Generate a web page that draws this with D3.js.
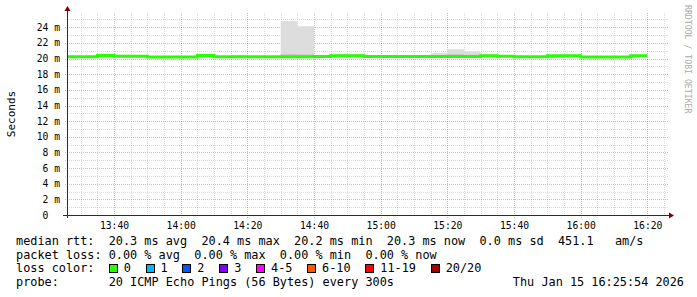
<!DOCTYPE html>
<html>
<head>
<meta charset="utf-8">
<script src="https://cdn.jsdelivr.net/npm/d3@7"></script>
<style>
  html, body { margin: 0; padding: 0; background: #fff; }
  svg { display: block; font-family: "DejaVu Sans Mono", monospace; }
  text { white-space: pre; }
</style>
</head>
<body>
<svg id="canvas"></svg>
<script>
const width = 697;
const height = 297;

// 5 minute steps, value covers (end - 300s, end]
const stepEnds = ["13:30","13:35","13:40","13:45","13:50","13:55","14:00","14:05","14:10","14:15",
  "14:20","14:25","14:30","14:35","14:40","14:45","14:50","14:55","15:00","15:05",
  "15:10","15:15","15:20","15:25","15:30","15:35","15:40","15:45","15:50","15:55",
  "16:00","16:05","16:10","16:15","16:20"];

// median rtt in ms
const median = [20.25, 20.25, 20.38, 20.3, 20.3, 20.2, 20.2, 20.2, 20.38, 20.25,
  20.25, 20.25, 20.25, 20.25, 20.25, 20.27, 20.35, 20.35, 20.28, 20.28,
  20.28, 20.28, 20.28, 20.28, 20.28, 20.35, 20.3, 20.25, 20.25, 20.35,
  20.35, 20.2, 20.2, 20.2, 20.35];

// smoke (ping spread) upper / lower bound in ms
const smokeHi = [20.35, 20.35, 20.4, 20.35, 20.35, 20.2, 20.35, 20.35, 20.4, 20.25,
  20.45, 20.3, 20.3, 24.8, 24.15, 20.4, 20.6, 20.6, 20.4, 20.3,
  20.3, 20.3, 20.75, 21.2, 20.9, 20.55, 20.4, 20.35, 20.35, 20.4,
  20.4, 20.25, 20.25, 20.25, 20.4];
const smokeMid = [20.3, 20.3, 20.38, 20.3, 20.3, 20.2, 20.25, 20.25, 20.38, 20.25,
  20.3, 20.25, 20.25, 20.6, 20.55, 20.3, 20.45, 20.45, 20.3, 20.28,
  20.28, 20.28, 20.45, 20.6, 20.5, 20.4, 20.3, 20.3, 20.3, 20.35,
  20.35, 20.2, 20.2, 20.2, 20.35];
const smokeLo = [20.15, 20.15, 20.25, 20.2, 20.2, 20.1, 20.1, 20.1, 20.25, 20.15,
  20.15, 20.15, 20.15, 20.15, 20.15, 20.15, 20.25, 20.25, 20.18, 20.18,
  20.18, 20.18, 20.18, 20.18, 20.18, 20.25, 20.2, 20.15, 20.15, 20.1,
  20.25, 20.1, 20.1, 20.1, 20.25];

const yTickValues = [0, 2, 4, 6, 8, 10, 12, 14, 16, 18, 20, 22, 24];
const yTickLabels = ["0  ", "2 m", "4 m", "6 m", "8 m", "10 m", "12 m", "14 m", "16 m", "18 m", "20 m", "22 m", "24 m"];

const stats = ["median rtt:  20.3 ms avg  20.4 ms max  20.2 ms min  20.3 ms now  0.0 ms sd  451.1   am/s",
  "packet loss: 0.00 % avg  0.00 % max  0.00 % min  0.00 % now"];
const lossLabels = ["0", "1", "2", "3", "4-5", "6-10", "11-19", "20/20"];
const lossColors = ["#26ff00", "#00b8ff", "#0059ff", "#7e00ff", "#ff00ff", "#ff5500", "#ff0000", "#a10000"];
const probeText = "probe:       20 ICMP Echo Pings (56 Bytes) every 300s";
const stampText = "Thu Jan 15 16:25:54 2026";

const svg = d3.select("#canvas")
  .attr("width", width)
  .attr("height", height);

const X0 = 67, X1 = 667, Y0 = 215, Y1 = 13;
const tStart = new Date(2026, 0, 15, 13, 25, 54);
const tEnd = new Date(2026, 0, 15, 16, 25, 54);

const x = d3.scaleTime().domain([tStart, tEnd]).range([X0, X1]);
const y = d3.scaleLinear().domain([0, 24]).range([Y0, 27.3]);
const yMax = y.invert(Y1);

const parseT = s => {
  const [h, m] = s.split(":").map(Number);
  return new Date(2026, 0, 15, h, m, 0);
};
const ends = stepEnds.map(parseT);
const steps = ends.map((e, i) => ({
  start: new Date(Math.max(+tStart, +e - 300000)),
  end: e,
  med: median[i], hi: smokeHi[i], mid: smokeMid[i], lo: smokeLo[i]
}));
// extra point so the last step is drawn to its end
const pts = steps.concat([Object.assign({}, steps[steps.length - 1], { start: steps[steps.length - 1].end })]);

const gridMinor = "rgba(140,140,140,0.33)";
const gridMajor = "rgba(150,30,30,0.33)";

// horizontal grid
const g = svg.append("g");
d3.range(0, Math.floor(yMax) + 1).forEach(v => {
  const major = v % 2 === 0;
  g.append("line")
    .attr("x1", X0 - 2).attr("x2", X1 + 2)
    .attr("y1", Math.round(y(v)) + 0.5).attr("y2", Math.round(y(v)) + 0.5)
    .attr("stroke", major ? gridMajor : gridMinor)
    .attr("stroke-dasharray", "1,1");
});

// vertical grid
x.ticks(d3.timeMinute.every(5)).forEach(t => {
  const major = t.getMinutes() % 20 === 0;
  const xx = Math.round(x(t)) + 0.5;
  g.append("line")
    .attr("x1", xx).attr("x2", xx)
    .attr("y1", Y1).attr("y2", Y0 + (major ? 3 : 2))
    .attr("stroke", major ? gridMajor : gridMinor)
    .attr("stroke-dasharray", "1,1");
});

const plot = svg.append("g");
plot.append("clipPath").attr("id", "clip")
  .append("rect").attr("x", X0).attr("y", Y1).attr("width", X1 - X0).attr("height", Y0 - Y1);

const areaOf = (a, b) => d3.area()
  .x(d => x(d.start))
  .y0(d => y(d[a]))
  .y1(d => y(d[b]))
  .curve(d3.curveStepAfter);

plot.append("path").datum(pts)
  .attr("clip-path", "url(#clip)")
  .attr("fill", "#dddddd")
  .attr("d", areaOf("lo", "hi"));

plot.append("path").datum(pts)
  .attr("clip-path", "url(#clip)")
  .attr("fill", "#c9c9c9")
  .attr("d", areaOf("lo", "mid"));

plot.append("path").datum(pts)
  .attr("clip-path", "url(#clip)")
  .attr("fill", "none")
  .attr("stroke", lossColors[0])
  .attr("stroke-width", 3)
  .attr("d", d3.line().x(d => x(d.start)).y(d => y(d.med)).curve(d3.curveStepAfter));

// axes
const axisColor = "#2c2c2c";
svg.append("line")
  .attr("x1", X0 - 4).attr("x2", X1 + 3)
  .attr("y1", Y0 + 0.5).attr("y2", Y0 + 0.5)
  .attr("stroke", axisColor);
svg.append("line")
  .attr("x1", X0 + 0.5).attr("x2", X0 + 0.5)
  .attr("y1", Y0 + 3).attr("y2", Y1 - 3)
  .attr("stroke", axisColor);
svg.append("path")
  .attr("d", `M${X1 + 2},${Y0 - 2.5} L${X1 + 7},${Y0 + 0.5} L${X1 + 2},${Y0 + 3.5} Z`)
  .attr("fill", "#7f0000");
svg.append("path")
  .attr("d", `M${X0 - 2.5},${Y1 - 2} L${X0 + 0.5},${Y1 - 7} L${X0 + 3.5},${Y1 - 2} Z`)
  .attr("fill", "#7f0000");

// y labels
svg.append("g").selectAll("text")
  .data(yTickValues)
  .join("text")
  .attr("x", 60)
  .attr("y", d => y(d) + 3.5)
  .attr("text-anchor", "end")
  .attr("font-size", 9.7)
  .attr("fill", "#000")
  .text((d, i) => yTickLabels[i]);

// x labels
const fmt = d3.timeFormat("%H:%M");
svg.append("g").selectAll("text")
  .data(x.ticks(d3.timeMinute.every(20)))
  .join("text")
  .attr("x", d => x(d) + 0.5)
  .attr("y", 228.5)
  .attr("text-anchor", "middle")
  .attr("font-size", 9.7)
  .attr("fill", "#000")
  .text(d => fmt(d));

svg.append("text")
  .attr("transform", "translate(15,114) rotate(-90)")
  .attr("text-anchor", "middle")
  .attr("font-size", 11)
  .text("Seconds");

svg.append("text")
  .attr("transform", "translate(685,5) rotate(90)")
  .attr("font-size", 8.2)
  .attr("fill", "#aaaaaa")
  .text("RRDTOOL / TOBI OETIKER");

// legend
const LX = 16, CW = 7.13, FS = 11.85;
const rows = [245, 258.7, 272.3, 286];
stats.forEach((s, i) => {
  svg.append("text").attr("x", LX).attr("y", rows[i]).attr("font-size", FS).text(s);
});
svg.append("text").attr("x", LX).attr("y", rows[2]).attr("font-size", FS).text("loss color:");
let bx = LX + 13 * CW;
lossLabels.forEach((lab, i) => {
  svg.append("rect")
    .attr("x", Math.round(bx) + 0.5).attr("y", 264.5)
    .attr("width", 8).attr("height", 8)
    .attr("fill", lossColors[i]).attr("stroke", "#000");
  svg.append("text").attr("x", bx + 15).attr("y", rows[2]).attr("font-size", FS).text(lab);
  bx += 15 + lab.length * CW + 14.7;
});
svg.append("text").attr("x", LX).attr("y", rows[3]).attr("font-size", FS).text(probeText);
svg.append("text").attr("x", 684).attr("y", rows[3]).attr("font-size", FS)
  .attr("text-anchor", "end").text(stampText);
</script>
</body>
</html>
